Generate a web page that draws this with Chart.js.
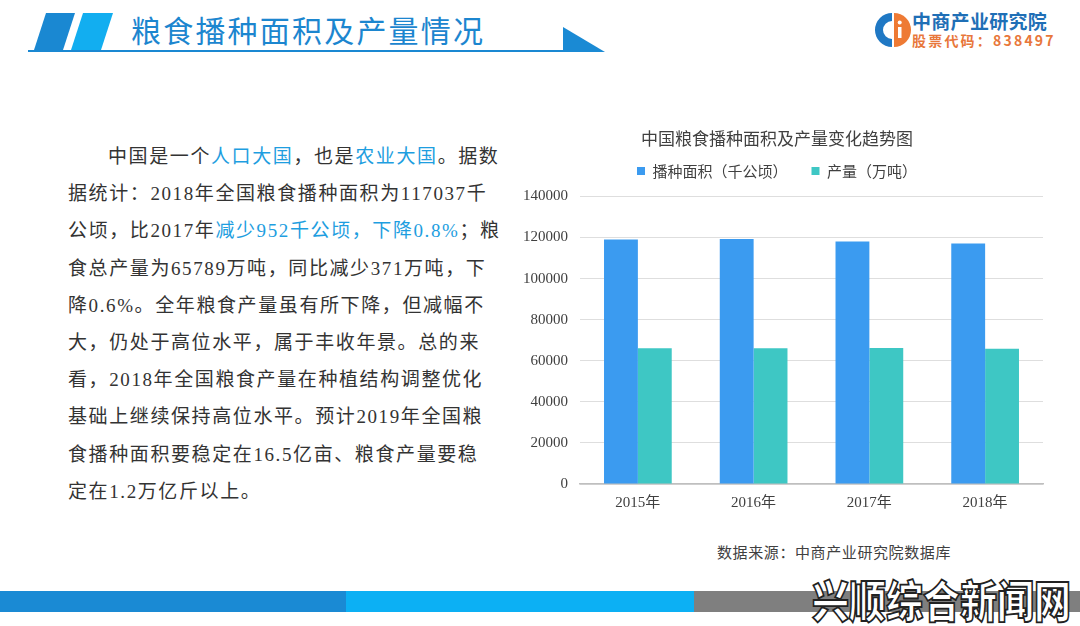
<!DOCTYPE html>
<html>
<head>
<meta charset="utf-8">
<script src="https://cdn.jsdelivr.net/npm/chart.js@4.4.0/dist/chart.umd.min.js"></script>
<style>
  body { margin: 0; width: 1080px; height: 626px; background: #fff; position: relative; overflow: hidden; font-family: "Noto Sans CJK SC", sans-serif; }
  .abs { position: absolute; }
  #title { left: 131px; top: 9px; font-size: 30px; letter-spacing: 2.2px; color: #1c86cf; white-space: nowrap; line-height: 40px; }
  #text { left: 68px; top: 138px; font-family: "Liberation Serif", "Noto Sans CJK SC", serif; font-size: 19px; letter-spacing: 1.6px; color: #333; line-height: 37.2px; white-space: nowrap; }
  #text .hl { color: #1e9ee0; }
  #logo1 { left: 912px; top: 7px; font-size: 19px; font-weight: bold; color: #1f6fb6; letter-spacing: 0.3px; white-space: nowrap; }
  #logo2 { left: 912px; top: 30px; font-size: 14px; font-weight: bold; color: #e8773b; letter-spacing: 2.2px; white-space: nowrap; }
  #source { left: 717px; top: 541px; font-size: 15px; color: #404040; letter-spacing: 0.6px; white-space: nowrap; }
  #wm { left: 812px; top: 572px; font-size: 37px; line-height: 44px; font-weight: 900; color: #fff; -webkit-text-stroke: 1.5px #222; white-space: nowrap; transform: scaleY(1.2); transform-origin: left top; }
  #chartBox { left: 505px; top: 122px; width: 550px; height: 400px; }
</style>
</head>
<body>
<svg class="abs" style="left:0;top:0" width="620" height="60">
  <polygon points="46,13 75,13 63,50 34,50" fill="#1a88d2"/>
  <polygon points="83,13 113,13 101,50 71,50" fill="#12aef0"/>
  <rect x="28" y="50" width="535" height="2" fill="#1a88d2"/>
  <polygon points="563,27 563,52 605,52" fill="#1a8ad4"/>
</svg>
<div id="title" class="abs">粮食播种面积及产量情况</div>

<svg class="abs" style="left:872px;top:10px" width="40" height="40">
  <path d="M20,3 A17,17 0 1,0 20,37 L20,29 A9,9 0 1,1 20,11 Z" fill="#1f78c4"/>
  <path d="M22,3 A17,17 0 0,1 22,37 Z" fill="#ee7a34"/>
  <rect x="26" y="17" width="3.5" height="11" fill="#fff"/>
  <circle cx="27.7" cy="12.5" r="2" fill="#fff"/>
</svg>
<div id="logo1" class="abs">中商产业研究院</div>
<div id="logo2" class="abs">股票代码：838497</div>

<div id="text" class="abs">
  <div style="padding-left:40px">中国是一个<span class="hl">人口大国</span>，也是<span class="hl">农业大国</span>。据数</div>
  <div>据统计：2018年全国粮食播种面积为117037千</div>
  <div>公顷，比2017年<span class="hl">减少952千公顷，下降0.8%</span>；粮</div>
  <div>食总产量为65789万吨，同比减少371万吨，下</div>
  <div>降0.6%。全年粮食产量虽有所下降，但减幅不</div>
  <div>大，仍处于高位水平，属于丰收年景。总的来</div>
  <div>看，2018年全国粮食产量在种植结构调整优化</div>
  <div>基础上继续保持高位水平。预计2019年全国粮</div>
  <div>食播种面积要稳定在16.5亿亩、粮食产量要稳</div>
  <div>定在1.2万亿斤以上。</div>
</div>

<div id="chartBox" class="abs"><canvas id="grainChart"></canvas></div>
<div id="source" class="abs">数据来源：中商产业研究院数据库</div>

<div class="abs" style="left:0;top:591px;width:346px;height:21px;background:#1a8ad4"></div>
<div class="abs" style="left:346px;top:591px;width:348px;height:21px;background:#0cb0f4"></div>
<div class="abs" style="left:694px;top:591px;width:386px;height:21px;background:#7f7f7f"></div>
<div id="wm" class="abs">兴顺综合新闻网</div>

<script>
// 数据
const years = ['2015年', '2016年', '2017年', '2018年'];
const areaValues = [118963, 119230, 117989, 117037];   // 播种面积（千公顷）
const outputValues = [66060, 66044, 66161, 65789];      // 产量（万吨）
const seriesNames = ['播种面积（千公顷）', '产量（万吨）'];

// 图例下方留点空
const legendGap = {
  id: 'legendGap',
  beforeInit(chart) {
    const fitOrig = chart.legend.fit;
    chart.legend.fit = function() {
      fitOrig.bind(chart.legend)();
      this.height += 8;
    };
  }
};

const ctx = document.getElementById('grainChart').getContext('2d');
new Chart(ctx, {
  type: 'bar',
  data: {
    labels: years,
    datasets: [{
      label: seriesNames[0],
      data: areaValues,
      backgroundColor: '#3b9bf0'
    }, {
      label: seriesNames[1],
      data: outputValues,
      backgroundColor: '#3ec7c4'
    }]
  },
  options: {
    responsive: true,
    maintainAspectRatio: false,
    animation: false,
    layout: { padding: { left: 6, right: 12, top: 0, bottom: 0 } },
    datasets: { bar: { categoryPercentage: 0.585, barPercentage: 1.0 } },
    scales: {
      y: {
        min: 0,
        max: 140000,
        ticks: {
          stepSize: 20000,
          padding: 12,
          color: '#404040',
          font: { family: 'Liberation Serif', size: 15 },
          callback: function(value) { return String(value); }
        },
        grid: { color: '#dedede', drawTicks: false },
        border: { display: false }
      },
      x: {
        ticks: {
          padding: 10,
          color: '#404040',
          font: { family: '"Liberation Serif", "Noto Sans CJK SC"', size: 15 }
        },
        grid: { display: false, drawTicks: false },
        border: { color: '#bfbfbf', width: 1.5 }
      }
    },
    plugins: {
      title: {
        display: true,
        text: '中国粮食播种面积及产量变化趋势图',
        color: '#404040',
        font: { family: 'Noto Sans CJK SC', size: 17, weight: 'normal' },
        padding: { top: 6, bottom: -9 }
      },
      legend: {
        position: 'top',
        labels: {
          boxWidth: 8,
          boxHeight: 8,
          padding: 24,
          color: '#404040',
          font: { family: 'Noto Sans CJK SC', size: 15 }
        }
      },
      tooltip: { enabled: false }
    }
  },
  plugins: [legendGap]
});
</script>
</body>
</html>
